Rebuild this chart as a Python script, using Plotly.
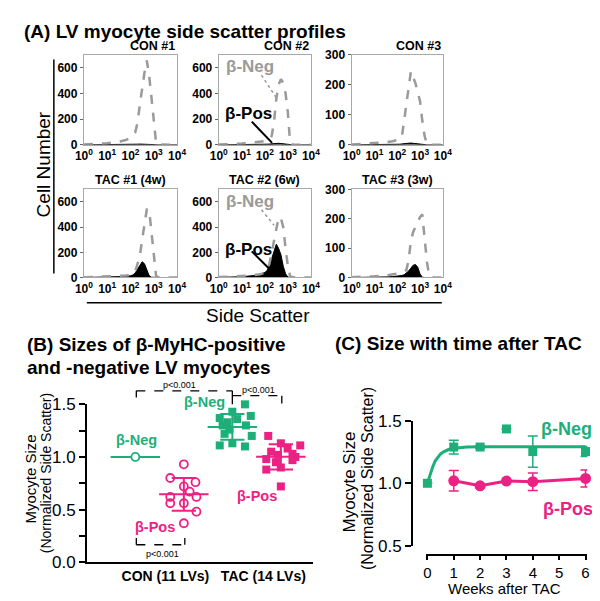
import numpy as np
import plotly.graph_objects as go

W, H = 600, 601
FONT = "Liberation Sans, Arial, sans-serif"
GREEN = "#1DAF7A"
PINK = "#EC2184"
GRAY = "#9A9A9A"

# ---------------- Panel A data: histograms over log10(side scatter) ----------------
log_ssc = [0.0, 0.5, 1.0, 1.5, 1.8, 2.0, 2.1, 2.2, 2.3, 2.4, 2.5, 2.6, 2.7,
           2.8, 2.9, 3.0, 3.1, 3.2, 3.3, 3.4, 3.6, 4.0]
hist_titles = ["CON #1", "CON #2", "CON #3", "TAC #1 (4w)", "TAC #2 (6w)", "TAC #3 (3w)"]
con1_neg = [2, 5, 12, 25, 37, 55, 70, 95, 170, 310, 440, 560, 655, 540, 370, 190, 15, 3, 2, 1, 0, 0]
con1_pos = [0, 0, 1, 2, 3, 4, 4, 5, 5, 6, 6, 6, 5, 4, 3, 2, 1, 0, 0, 0, 0, 0]
con2_neg = [2, 5, 10, 18, 22, 28, 33, 40, 70, 180, 360, 470, 510, 480, 400, 250, 10, 2, 1, 0, 0, 0]
con2_pos = [0, 0, 1, 2, 3, 4, 5, 6, 8, 10, 12, 12, 10, 7, 4, 2, 1, 0, 0, 0, 0, 0]
con3_neg = [1, 3, 5, 9, 12, 15, 18, 25, 80, 150, 205, 245, 225, 205, 175, 145, 80, 30, 2, 0, 0, 0]
con3_pos = [0, 0, 0, 1, 1, 2, 2, 3, 4, 5, 6, 6, 5, 4, 2, 1, 0, 0, 0, 0, 0, 0]
tac1_neg = [2, 4, 6, 10, 15, 20, 25, 45, 100, 170, 300, 430, 540, 540, 380, 185, 10, 2, 0, 0, 0, 0]
tac1_pos = [0, 1, 2, 4, 8, 14, 20, 35, 63, 100, 125, 110, 60, 15, 2, 0, 0, 0, 0, 0, 0, 0]
tac2_neg = [3, 6, 12, 18, 25, 40, 60, 110, 200, 290, 390, 480, 470, 400, 230, 90, 8, 2, 0, 0, 0, 0]
tac2_pos = [1, 3, 6, 15, 25, 40, 55, 95, 150, 220, 265, 230, 180, 90, 30, 3, 0, 0, 0, 0, 0, 0]
tac3_neg = [1, 2, 4, 7, 11, 13, 14, 16, 20, 25, 60, 125, 155, 175, 190, 205, 215, 135, 55, 5, 0, 0]
tac3_pos = [0, 0, 1, 2, 3, 4, 5, 7, 9, 14, 22, 32, 42, 44, 35, 12, 1, 0, 0, 0, 0, 0]
hist_neg = [con1_neg, con2_neg, con3_neg, tac1_neg, tac2_neg, tac3_neg]
hist_pos = [con1_pos, con2_pos, con3_pos, tac1_pos, tac2_pos, tac3_pos]
hist_ymax = [700, 700, 300, 700, 700, 300]
hist_yticks = [[0, 200, 400, 600], [0, 200, 400, 600], [0, 100, 200, 300],
               [0, 200, 400, 600], [0, 200, 400, 600], [0, 100, 200, 300]]
ssc_ticks = [1, 10, 100, 1000, 10000]
ssc_ticktext = ["<b>10<sup>%d</sup></b>" % i for i in range(5)]

# ---------------- Panel B data ----------------
b_groups = ["CON (11 LVs)", "TAC (14 LVs)"]
con_neg_val = [1.0]
con_pos_val = [0.93, 0.80, 0.76, 0.72, 0.67, 0.62, 0.62, 0.56, 0.56, 0.48, 0.37]
con_pos_jit = [0.0, -0.28, 0.24, 0.0, 0.12, -0.28, 0.26, -0.28, 0.0, 0.26, 0.0]
tac_neg_val = [1.50, 1.43, 1.39, 1.37, 1.36, 1.33, 1.30, 1.30, 1.26, 1.22, 1.20, 1.13, 1.11, 1.10]
tac_neg_jit = [0.26, 0.0, 0.38, -0.26, 0.1, -0.1, -0.2, 0.28, -0.06, -0.16, 0.4, 0.0, -0.26, 0.26]
tac_pos_val = [1.20, 1.13, 1.11, 1.08, 1.05, 1.03, 1.02, 1.00, 0.98, 0.97, 0.95, 0.90, 0.88, 0.72]
tac_pos_jit = [-0.26, 0.0, 0.4, 0.14, -0.2, 0.24, -0.06, 0.3, -0.3, 0.24, -0.1, 0.0, -0.3, 0.0]

# ---------------- Panel C data ----------------
weeks_neg = [0, 1, 2, 3, 4, 6]
size_neg = [1.00, 1.29, 1.29, 1.435, 1.254, 1.254]
err_neg = [0.0, 0.055, 0.01, 0.0, 0.125, 0.04]
weeks_pos = [1, 2, 3, 4, 6]
size_pos = [1.02, 0.98, 1.018, 1.013, 1.039]
err_pos = [0.082, 0.015, 0.0, 0.07, 0.068]
fit_weeks = [0, 0.1, 0.2, 0.3, 0.4, 0.5, 0.6, 0.8, 1.0, 1.25, 1.5, 2, 3, 4, 5, 6]
fit_neg = [1.0, 1.07, 1.13, 1.18, 1.21, 1.235, 1.25, 1.27, 1.28, 1.287, 1.29, 1.292,
           1.293, 1.293, 1.293, 1.293]


def X(p):
    return p / W


def Y(p):
    return 1 - p / H


fig = go.Figure()
layout = {}
annotations = []
shapes = []


def ann(text, x, y, size, color="black", bold=False, xanchor="center", yanchor="middle", angle=0):
    t = "<b>%s</b>" % text if bold else text
    annotations.append(dict(text=t, x=X(x), y=Y(y), xref="paper", yref="paper",
                            showarrow=False, xanchor=xanchor, yanchor=yanchor,
                            textangle=angle, font=dict(size=size, color=color, family=FONT)))


def seg(x0, y0, x1, y1, color="black", width=1.5, dash="solid"):
    shapes.append(dict(type="line", xref="paper", yref="paper", x0=X(x0), y0=Y(y0),
                       x1=X(x1), y1=Y(y1), line=dict(color=color, width=width, dash=dash)))


# ---- Panel A subplots ----
boxes = [(69, 165, 39, 132), (208, 303, 39, 132), (345, 439, 39, 132),
         (69, 165, 178, 269), (208, 303, 178, 269), (345, 439, 178, 269)]
ssc = [10 ** v for v in log_ssc]
for i in range(6):
    k = i + 1
    xa, ya = "x%d" % k, "y%d" % k
    l, r, t, b = boxes[i]
    fig.add_trace(go.Scatter(x=ssc, y=hist_pos[i], xaxis=xa, yaxis=ya, mode="lines",
                             fill="tozeroy", fillcolor="black",
                             line=dict(color="black", width=1), showlegend=False))
    fig.add_trace(go.Scatter(x=ssc, y=hist_neg[i], xaxis=xa, yaxis=ya, mode="lines",
                             line=dict(color=GRAY, width=2.5, dash="dash"), showlegend=False))
    layout["xaxis%d" % k] = dict(domain=[X(l), X(r)], anchor=ya, type="log", range=[0, 4],
                                 tickvals=ssc_ticks, ticktext=ssc_ticktext,
                                 showline=True, mirror=True, linecolor="#A8A8A8", linewidth=1.2,
                                 ticks="", showgrid=False, zeroline=False,
                                 tickfont=dict(size=12, color="black", family=FONT))
    layout["yaxis%d" % k] = dict(domain=[Y(b), Y(t)], anchor=xa, range=[0, hist_ymax[i]],
                                 tickvals=hist_yticks[i], showline=True, mirror=True,
                                 linecolor="#A8A8A8", linewidth=1.2, ticks="outside",
                                 ticklen=3, tickcolor="#666", showgrid=False, zeroline=False,
                                 tickfont=dict(size=12, color="black", family=FONT, weight="bold"))
    if i < 3:
        ann(hist_titles[i], r, 30, 12.5, bold=True, xanchor="right")
    else:
        ann(hist_titles[i], (l + r) / 2, 168, 12.5, bold=True)

# annotations inside CON #2 / TAC #2
for dy in (0, 140):
    ann("β-Neg", 213, 51 + dy, 17, color=GRAY, bold=True, xanchor="left")
    ann("β-Pos", 212, 100 + dy, 17, color="black", bold=True, xanchor="left")
seg(252, 60, 267, 83, color=GRAY, width=1.5, dash="dot")
seg(242, 108, 263, 130, color="black", width=2)
seg(252, 199, 265, 215, color=GRAY, width=1.5, dash="dot")
seg(242, 242, 260, 260, color="black", width=2)

ann("(A) LV myocyte side scatter profiles", 5, 15, 19, bold=True, xanchor="left")
ann("Cell Number", 27, 152, 19, angle=-90)
seg(38, 44, 38, 265, width=1.5)
seg(72, 295, 438, 295, width=1.5)
ann("Side Scatter", 248, 308, 19)

# ---- Panel B ----
xb, yb = "x7", "y7"
con_pos_x = [2 + j for j in con_pos_jit]
tac_neg_x = [3 + j for j in tac_neg_jit]
tac_pos_x = [4 + j for j in tac_pos_jit]

def mean_sd(xc, vals, color):
    m = float(np.mean(vals))
    s = float(np.std(vals, ddof=1)) if len(vals) > 1 else 0.0
    fig.add_trace(go.Scatter(x=[xc - 0.51, xc + 0.51], y=[m, m], xaxis=xb, yaxis=yb,
                             mode="lines", line=dict(color=color, width=2), showlegend=False))
    if s > 0:
        for v in (m - s, m + s):
            fig.add_trace(go.Scatter(x=[xc - 0.25, xc + 0.25], y=[v, v], xaxis=xb, yaxis=yb,
                                     mode="lines", line=dict(color=color, width=2), showlegend=False))
        fig.add_trace(go.Scatter(x=[xc, xc], y=[m - s, m + s], xaxis=xb, yaxis=yb,
                                 mode="lines", line=dict(color=color, width=2), showlegend=False))

mean_sd(1, con_neg_val, GREEN)
mean_sd(2, con_pos_val, PINK)
mean_sd(3, tac_neg_val, GREEN)
mean_sd(4, tac_pos_val, PINK)
fig.add_trace(go.Scatter(x=[1], y=con_neg_val, xaxis=xb, yaxis=yb, mode="markers",
                         marker=dict(symbol="circle", size=8, color="white",
                                     line=dict(color=GREEN, width=1.8)),
                         cliponaxis=False, showlegend=False))
fig.add_trace(go.Scatter(x=con_pos_x, y=con_pos_val, xaxis=xb, yaxis=yb, mode="markers",
                         marker=dict(symbol="circle-open", size=8, color=PINK,
                                     line=dict(color=PINK, width=1.8)),
                         cliponaxis=False, showlegend=False))
fig.add_trace(go.Scatter(x=tac_neg_x, y=tac_neg_val, xaxis=xb, yaxis=yb, mode="markers",
                         marker=dict(symbol="square", size=8, color=GREEN),
                         cliponaxis=False, showlegend=False))
fig.add_trace(go.Scatter(x=tac_pos_x, y=tac_pos_val, xaxis=xb, yaxis=yb, mode="markers",
                         marker=dict(symbol="square", size=8, color=PINK),
                         cliponaxis=False, showlegend=False))

layout["xaxis7"] = dict(domain=[X(72), X(305)], anchor=yb, range=[0, 4.66],
                        showline=True, linecolor="black", linewidth=1.5, ticks="",
                        tickvals=[1.62, 3.64], ticktext=["<b>%s</b>" % g for g in b_groups],
                        tickfont=dict(size=14, color="black", family=FONT),
                        showgrid=False, zeroline=False)
layout["yaxis7"] = dict(domain=[Y(563), Y(400)], anchor=xb, range=[0, 1.5],
                        showline=True, linecolor="black", linewidth=1.5, ticks="outside",
                        ticklen=6, tickwidth=1.5, tickcolor="black", dtick=0.5, tickformat=".1f",
                        minor=dict(dtick=0.25, ticks="outside", ticklen=6, tickwidth=1.5,
                                   tickcolor="black"),
                        tickfont=dict(size=17, color="black", family=FONT),
                        showgrid=False, zeroline=False)

ann("(B) Sizes of β-MyHC-positive", 8, 338, 19, bold=True, xanchor="left")
ann("and -negative LV myocytes", 8, 362, 19, bold=True, xanchor="left")
ann("Myocyte Size", 14, 477, 15, angle=-90)
ann("(Normalized Side Scatter)", 30, 471, 14, angle=-90)
ann("β-Neg", 193, 398, 14.5, color=GREEN, bold=True)
ann("β-Neg", 123, 437, 14.5, color=GREEN, bold=True)
ann("β-Pos", 142, 527, 14.5, color=PINK, bold=True)
ann("β-Pos", 247, 495, 14.5, color=PINK, bold=True)
# significance brackets
seg(123, 386, 222, 386, width=1.3, dash="dash")
seg(123, 386, 123, 393, width=1.3)
seg(222, 386, 222, 400, width=1.3)
seg(222, 391, 273, 391, width=1.3, dash="dash")
seg(273, 391, 273, 399, width=1.3)
seg(123, 545, 173, 545, width=1.3, dash="dash")
seg(123, 545, 123, 538, width=1.3)
seg(173, 545, 173, 538, width=1.3)
ann("p<0.001", 168, 380, 9)
ann("p<0.001", 249, 385, 9)
ann("p<0.001", 150, 555, 9)

# ---- Panel C ----
xc, yc = "x8", "y8"
fig.add_trace(go.Scatter(x=fit_weeks, y=fit_neg, xaxis=xc, yaxis=yc, mode="lines",
                         line=dict(color=GREEN, width=3), showlegend=False))
fig.add_trace(go.Scatter(x=weeks_neg, y=size_neg, xaxis=xc, yaxis=yc, mode="markers",
                         marker=dict(symbol="square", size=9, color=GREEN),
                         error_y=dict(type="data", array=err_neg, color=GREEN,
                                      thickness=1.5, width=5),
                         cliponaxis=False, showlegend=False))
fig.add_trace(go.Scatter(x=weeks_pos, y=size_pos, xaxis=xc, yaxis=yc, mode="lines+markers",
                         line=dict(color=PINK, width=3),
                         marker=dict(symbol="circle", size=11, color=PINK),
                         error_y=dict(type="data", array=err_pos, color=PINK,
                                      thickness=1.5, width=5),
                         cliponaxis=False, showlegend=False))
layout["xaxis8"] = dict(domain=[X(422), X(588)], anchor="free", position=Y(556),
                        range=[-0.04, 6.07], dtick=1, showline=True, linecolor="black",
                        linewidth=1.5, ticks="outside", ticklen=4, tickwidth=1.5,
                        tickcolor="black", tickfont=dict(size=15, color="black", family=FONT),
                        showgrid=False, zeroline=False)
layout["yaxis8"] = dict(domain=[Y(546), Y(417)], anchor="free", position=X(407),
                        range=[0.5, 1.5], tickvals=[0.5, 1.0, 1.5], tickformat=".1f",
                        showline=True, linecolor="black", linewidth=1.5, ticks="outside",
                        ticklen=6, tickwidth=1.5, tickcolor="black",
                        tickfont=dict(size=17, color="black", family=FONT),
                        showgrid=False, zeroline=False)
ann("(C) Size with time after TAC", 326, 337, 19, bold=True, xanchor="left")
ann("Weeks after TAC", 503, 601, 15, yanchor="bottom")
ann("Myocyte Size", 343, 480, 17, angle=-90)
ann("(Normalized Side Scatter)", 362, 477, 16, angle=-90)
ann("β-Neg", 567, 425, 18, color=GREEN, bold=True)
ann("β-Pos", 568, 508, 18, color=PINK, bold=True)

fig.update_layout(width=W, height=H, margin=dict(l=0, r=0, t=0, b=0),
                  paper_bgcolor="white", plot_bgcolor="white",
                  font=dict(family=FONT, color="black"),
                  annotations=annotations, shapes=shapes, **layout)
fig.write_html("out.html")
